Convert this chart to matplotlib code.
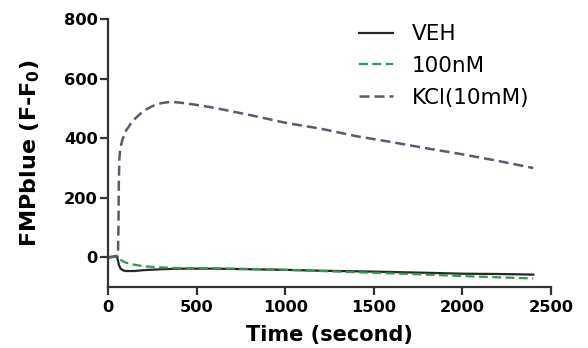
import matplotlib
matplotlib.use('agg')
from matplotlib import pyplot as plt
import numpy as np

plt.rcParams['font.family'] = ['DejaVu Sans']
plt.rcParams['mathtext.fontset'] = 'dejavusans'

# data (time in s, F-F0)
veh_t = [0, 50, 55, 60, 70, 85, 100, 150, 200, 300, 400, 600, 800, 1000, 1200, 1500, 1800, 2000, 2200, 2400]
veh_y = [0, 2, -10, -25, -38, -44, -46, -46, -43, -40, -38, -38, -40, -42, -45, -48, -52, -55, -56, -58]

nm_t = [0, 50, 55, 60, 80, 100, 150, 200, 300, 400, 600, 800, 1000, 1200, 1500, 1800, 2000, 2200, 2400]
nm_y = [0, 2, 0, -5, -12, -18, -25, -30, -34, -36, -37, -39, -42, -46, -52, -58, -63, -67, -71]

kcl_t = [0, 50, 55, 58, 60, 63, 68, 80, 100, 125, 150, 200, 250, 300, 350, 400, 500, 600, 800,
         1000, 1200, 1400, 1600, 1800, 2000, 2200, 2400]
kcl_y = [0, 5, 5, 100, 250, 330, 365, 395, 425, 447, 465, 492, 508, 518, 522, 520, 512, 502, 478,
         452, 432, 407, 387, 366, 346, 324, 300]

xticks = [0, 500, 1000, 1500, 2000, 2500]
yticks = [0, 200, 400, 600, 800]

fig = plt.figure(figsize=(5.88, 3.48), dpi=100)
ax = fig.add_axes([0.184, 0.175, 0.753, 0.770])

ax.plot(veh_t, veh_y, color='#262626', lw=1.6, label='VEH')
ax.plot(nm_t, nm_y, color='#2e9a55', lw=1.6, dashes=(4, 2), label='100nM')
ax.plot(kcl_t, kcl_y, color='#5a5a6e', lw=1.8, dashes=(4, 2), label='KCl(10mM)')

ax.set_xlim(0, 2500)
ax.set_ylim(-100, 800)
ax.set_xticks(xticks)
ax.set_yticks(yticks)

for s in ['top', 'right']:
    ax.spines[s].set_visible(False)
for s in ['left', 'bottom']:
    ax.spines[s].set_linewidth(1.6)
    ax.spines[s].set_color('#333333')
ax.tick_params(direction='out', length=6, width=1.6, color='#333333',
               labelsize=11.7, pad=1.5)
ax.tick_params(axis='x', pad=3.5)
for lab in ax.get_xticklabels() + ax.get_yticklabels():
    lab.set_fontweight('bold')

ax.set_xlabel('Time (second)', fontsize=15, fontweight='bold', labelpad=7)
ax.set_ylabel(r'FMPblue (F-F$_\mathbf{0}$)', fontsize=16, fontweight='bold', labelpad=16)

ax.legend(loc='upper left', bbox_to_anchor=(340 / 588, 1 - 5 / 348),
          bbox_transform=fig.transFigure, frameon=False, fontsize=15.5,
          handlelength=1.55, handletextpad=0.9, labelspacing=0.54)

fig.savefig('out.png', dpi=100)
